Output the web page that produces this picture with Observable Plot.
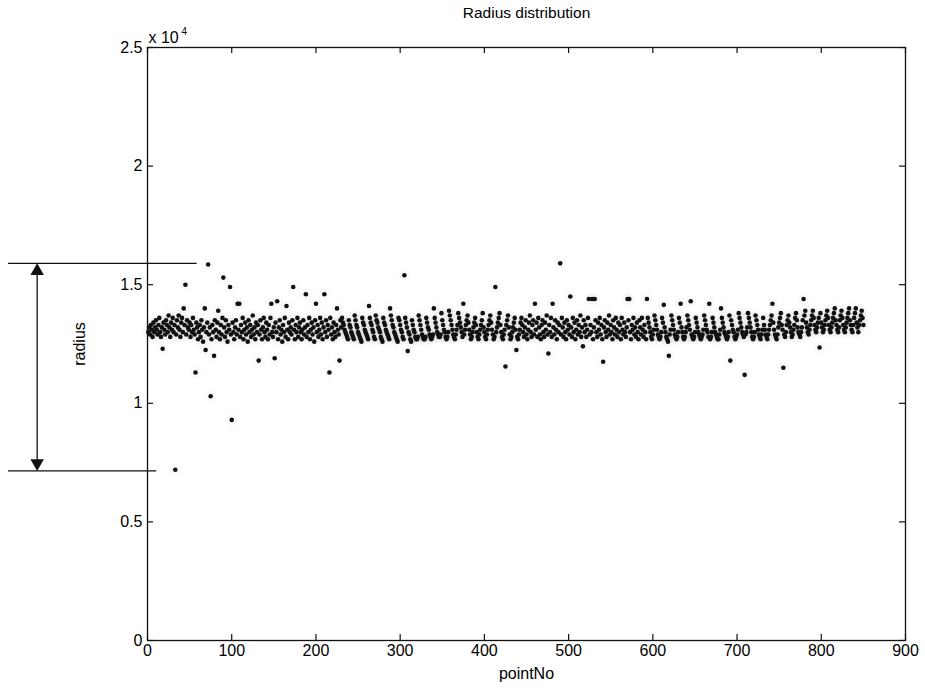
<!DOCTYPE html>
<html><head><meta charset="utf-8">
<script src="https://cdn.jsdelivr.net/npm/d3@7"></script>
<script src="https://cdn.jsdelivr.net/npm/@observablehq/plot@0.6"></script>
<style>body{margin:0;background:#fff} #chart svg{display:block}</style>
</head><body><div id="chart"></div>
<script>
// radius values (in units of 10^4), pointNo = 1..850
const radius = [
1.30,1.32,1.29,1.33,1.31,1.28,1.34,1.30,1.32,1.35,
1.31,1.29,1.33,1.36,1.30,1.28,1.32,1.23,1.34,1.31,
1.29,1.35,1.33,1.30,1.37,1.32,1.28,1.34,1.31,1.36,
1.30,1.33,0.72,1.29,1.35,1.32,1.37,1.31,1.28,1.34,
1.36,1.30,1.40,1.33,1.50,1.29,1.35,1.32,1.31,1.34,
1.28,1.33,1.30,1.36,1.31,1.29,1.13,1.34,1.32,1.27,
1.30,1.33,1.28,1.35,1.31,1.26,1.32,1.40,1.225,1.30,
1.34,1.585,1.29,1.32,1.03,1.27,1.33,1.30,1.20,1.35,
1.31,1.28,1.34,1.39,1.30,1.27,1.33,1.29,1.36,1.53,
1.32,1.28,1.35,1.30,1.26,1.33,1.31,1.49,1.29,0.93,
1.34,1.30,1.27,1.32,1.35,1.29,1.42,1.31,1.42,1.28,
1.33,1.30,1.36,1.27,1.31,1.34,1.29,1.32,1.26,1.35,
1.30,1.33,1.28,1.31,1.37,1.29,1.32,1.27,1.34,1.30,
1.33,1.18,1.29,1.35,1.31,1.27,1.32,1.36,1.30,1.28,
1.34,1.31,1.27,1.33,1.29,1.36,1.42,1.30,1.28,1.32,
1.19,1.34,1.30,1.43,1.27,1.32,1.35,1.29,1.31,1.26,
1.33,1.30,1.36,1.28,1.41,1.31,1.27,1.34,1.30,1.32,
1.29,1.35,1.49,1.31,1.27,1.33,1.30,1.36,1.28,1.32,
1.34,1.30,1.27,1.31,1.35,1.29,1.32,1.46,1.28,1.33,
1.30,1.36,1.27,1.31,1.34,1.29,1.32,1.26,1.35,1.42,
1.30,1.33,1.28,1.31,1.36,1.29,1.34,1.27,1.32,1.46,
1.30,1.35,1.28,1.33,1.31,1.13,1.36,1.29,1.32,1.27,
1.34,1.30,1.28,1.33,1.40,1.31,1.29,1.18,1.35,1.32,
1.36,1.34,1.33,1.31,1.30,1.29,1.28,1.27,1.35,1.33,
1.32,1.30,1.29,1.28,1.27,1.37,1.35,1.33,1.32,1.30,
1.29,1.28,1.27,1.26,1.36,1.34,1.33,1.31,1.30,1.29,
1.28,1.27,1.41,1.36,1.34,1.33,1.31,1.30,1.28,1.27,
1.37,1.35,1.34,1.32,1.31,1.30,1.28,1.27,1.26,1.36,
1.34,1.33,1.31,1.30,1.29,1.28,1.27,1.40,1.37,1.35,
1.33,1.32,1.30,1.29,1.28,1.27,1.26,1.36,1.35,1.33,
1.31,1.30,1.28,1.27,1.54,1.36,1.34,1.32,1.22,1.30,
1.29,1.27,1.26,1.35,1.33,1.31,1.30,1.28,1.27,1.27,
1.28,1.37,1.35,1.33,1.31,1.29,1.28,1.27,1.27,1.28,
1.36,1.34,1.32,1.31,1.29,1.28,1.27,1.28,1.29,1.40,
1.36,1.34,1.32,1.30,1.29,1.28,1.28,1.29,1.38,1.35,
1.33,1.31,1.30,1.28,1.27,1.28,1.30,1.39,1.37,1.35,
1.33,1.31,1.29,1.28,1.27,1.29,1.31,1.33,1.38,1.36,
1.34,1.32,1.30,1.28,1.42,1.29,1.31,1.33,1.35,1.37,
1.34,1.31,1.29,1.27,1.28,1.30,1.32,1.34,1.36,1.33,
1.30,1.28,1.27,1.29,1.31,1.33,1.35,1.38,1.32,1.30,
1.28,1.27,1.29,1.31,1.33,1.35,1.37,1.34,1.31,1.29,
1.27,1.28,1.49,1.30,1.32,1.34,1.36,1.38,1.33,1.30,
1.28,1.27,1.29,1.31,1.155,1.33,1.35,1.37,1.32,1.29,
1.27,1.28,1.30,1.32,1.34,1.36,1.31,1.225,1.28,1.27,
1.29,1.31,1.34,1.36,1.33,1.30,1.28,1.32,1.35,1.29,
1.27,1.31,1.34,1.37,1.30,1.28,1.33,1.35,1.29,1.42,
1.31,1.34,1.28,1.36,1.32,1.29,1.27,1.33,1.35,1.30,
1.28,1.34,1.31,1.37,1.29,1.21,1.33,1.30,1.36,1.28,
1.42,1.32,1.29,1.35,1.31,1.27,1.34,1.30,1.33,1.59,
1.29,1.36,1.32,1.28,1.34,1.30,1.27,1.35,1.31,1.33,
1.29,1.45,1.32,1.28,1.36,1.30,1.34,1.27,1.31,1.35,
1.29,1.33,1.30,1.37,1.28,1.32,1.24,1.35,1.30,1.33,
1.28,1.31,1.36,1.44,1.29,1.33,1.30,1.44,1.27,1.32,
1.44,1.35,1.30,1.28,1.34,1.31,1.36,1.29,1.33,1.27,
1.175,1.32,1.35,1.30,1.28,1.34,1.31,1.37,1.29,1.33,
1.30,1.27,1.35,1.32,1.29,1.36,1.31,1.28,1.34,1.30,
1.33,1.27,1.36,1.31,1.29,1.34,1.30,1.28,1.32,1.44,
1.35,1.44,1.30,1.27,1.33,1.31,1.36,1.29,1.32,1.28,
1.34,1.30,1.27,1.35,1.32,1.29,1.36,1.31,1.28,1.33,
1.30,1.27,1.44,1.36,1.34,1.32,1.30,1.28,1.27,1.29,
1.31,1.37,1.35,1.33,1.31,1.29,1.28,1.27,1.28,1.30,
1.36,1.34,1.415,1.32,1.30,1.28,1.27,1.26,1.20,1.29,
1.31,1.37,1.35,1.33,1.31,1.29,1.28,1.27,1.28,1.30,
1.36,1.34,1.42,1.32,1.30,1.28,1.27,1.28,1.30,1.32,
1.37,1.35,1.33,1.31,1.43,1.29,1.28,1.27,1.28,1.30,
1.36,1.34,1.32,1.30,1.29,1.28,1.27,1.28,1.29,1.31,
1.37,1.35,1.33,1.31,1.30,1.28,1.42,1.27,1.28,1.30,
1.36,1.34,1.32,1.30,1.29,1.28,1.27,1.27,1.29,1.31,
1.40,1.36,1.34,1.32,1.30,1.29,1.28,1.27,1.28,1.30,
1.37,1.18,1.35,1.33,1.31,1.30,1.28,1.27,1.28,1.29,
1.31,1.38,1.36,1.34,1.32,1.30,1.29,1.28,1.12,1.29,
1.30,1.32,1.38,1.36,1.34,1.32,1.30,1.28,1.27,1.28,
1.30,1.37,1.35,1.33,1.31,1.29,1.28,1.27,1.29,1.31,
1.36,1.33,1.31,1.29,1.28,1.27,1.29,1.31,1.33,1.35,
1.37,1.42,1.34,1.31,1.29,1.28,1.27,1.29,1.32,1.34,
1.36,1.38,1.33,1.31,1.15,1.29,1.28,1.30,1.33,1.35,
1.37,1.34,1.32,1.30,1.28,1.29,1.31,1.33,1.36,1.38,
1.35,1.32,1.30,1.29,1.28,1.30,1.32,1.35,1.44,1.37,
1.39,1.34,1.32,1.30,1.29,1.31,1.33,1.35,1.37,1.39,
1.36,1.33,1.31,1.30,1.32,1.34,1.36,1.235,1.38,1.34,
1.32,1.30,1.31,1.33,1.35,1.37,1.39,1.36,1.33,1.31,
1.30,1.32,1.34,1.36,1.38,1.40,1.35,1.33,1.31,1.30,
1.32,1.35,1.37,1.39,1.36,1.33,1.31,1.30,1.32,1.34,
1.36,1.38,1.40,1.35,1.33,1.31,1.30,1.33,1.36,1.38,
1.40,1.34,1.32,1.30,1.33,1.35,1.37,1.39,1.36,1.33
];
const pointNo = radius.map((_, i) => i + 1);

const xTicks = [0, 100, 200, 300, 400, 500, 600, 700, 800, 900];
const yTicks = [0, 0.5, 1, 1.5, 2, 2.5];
const yTickLabels = ["0", "0.5", "1", "1.5", "2", "2.5"];

const titleText = "Radius distribution";
const xLabel = "pointNo";
const yLabel = "radius";
const exponentBase = "x 10";
const exponentPower = "4";

// bracket annotation (left of the axes): span of radius values
const bracketY = [1.59, 0.715];
const bracketX1 = [-165, -165];
const bracketX2 = [59, 11];
const arrowX = -131;

const W = 925, H = 694;
const mL = 147, mR = 20, mT = 47, mB = 54;
const innerW = W - mL - mR, innerH = H - mT - mB;
const font = "'Liberation Sans', Arial, sans-serif";

const data = pointNo.map((p, i) => ({p, r: radius[i]}));

const chart = Plot.plot({
  width: W,
  height: H,
  marginLeft: mL, marginRight: mR, marginTop: mT, marginBottom: mB,
  style: {fontFamily: font, fontSize: "16px", color: "#000", background: "#fff"},
  x: {domain: [0, 900]},
  y: {domain: [0, 2.5]},
  marks: [
    // faint scan halo around the points
    Plot.dot(data, {x: "p", y: "r", r: 6, fill: "#999", fillOpacity: 0.05, stroke: "none"}),
    Plot.frame({stroke: "#111", strokeWidth: 1.3}),
    // inward ticks
    Plot.tickX(xTicks, {x: d => d, insetTop: innerH - 6, stroke: "#111", strokeWidth: 1.2}),
    Plot.tickX(xTicks, {x: d => d, insetBottom: innerH - 6, stroke: "#111", strokeWidth: 1.2}),
    Plot.tickY(yTicks, {y: d => d, insetRight: innerW - 6, stroke: "#111", strokeWidth: 1.2}),
    Plot.tickY(yTicks, {y: d => d, insetLeft: innerW - 6, stroke: "#111", strokeWidth: 1.2}),
    Plot.axisX({ticks: xTicks, tickSize: 0, tickPadding: 4, fontSize: 16,
      label: xLabel, labelAnchor: "center", labelArrow: "none", labelOffset: 38}),
    Plot.axisY({ticks: yTicks, tickSize: 0, tickPadding: 5, fontSize: 16,
      tickFormat: (d) => yTickLabels[yTicks.indexOf(d)],
      label: yLabel, labelAnchor: "center", labelArrow: "none", labelOffset: 74}),
    // data points
    Plot.dot(data, {x: "p", y: "r", r: 2.3, fill: "#111", stroke: "none"}),
    // bracket annotation
    Plot.ruleY(bracketY, {y: d => d, x1: (d, i) => bracketX1[i], x2: (d, i) => bracketX2[i], stroke: "#111", strokeWidth: 1.3}),
    Plot.ruleX([arrowX], {x: d => d, y1: bracketY[0], y2: bracketY[1], stroke: "#111", strokeWidth: 1.3, insetTop: 8, insetBottom: 8}),
    Plot.dot([bracketY[0]], {x: arrowX, y: d => d, symbol: "triangle", r: 5, fill: "#111", stroke: "none", dy: 7.7}),
    Plot.dot([bracketY[1]], {x: arrowX, y: d => d, symbol: "triangle", r: 5, fill: "#111", stroke: "none", rotate: 180, dy: -7.7}),
    // title and exponent
    Plot.text([titleText], {text: d => d, frameAnchor: "top", dy: -34, fontSize: 15.5, lineAnchor: "middle"}),
    Plot.text([exponentBase], {text: d => d, frameAnchor: "top-left", dx: 1, dy: -10, fontSize: 16, textAnchor: "start", lineAnchor: "middle"}),
    Plot.text([exponentPower], {text: d => d, frameAnchor: "top-left", dx: 34, dy: -16, fontSize: 10, textAnchor: "start", lineAnchor: "middle"})
  ]
});
document.getElementById("chart").appendChild(chart);
</script>
</body></html>
